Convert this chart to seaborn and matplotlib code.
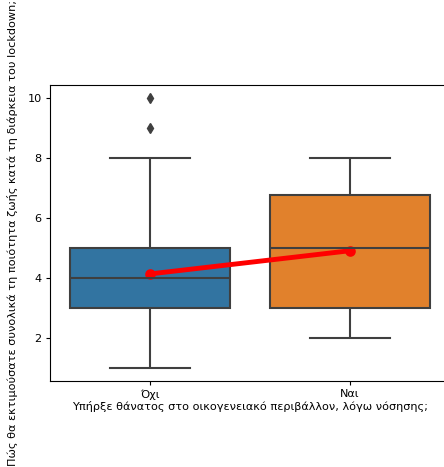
import pandas as pd
import matplotlib
matplotlib.use('Agg')
import matplotlib.pyplot as plt
import seaborn as sns

# quality-of-life scores per group
scores_no = [1, 1, 1, 2, 2, 2, 2, 2, 3, 3, 3, 3, 3, 3, 3, 3,
             4, 4, 4, 4, 4, 4, 4, 4, 4, 4, 5, 5, 5, 5, 5, 5, 5,
             6, 6, 7, 7, 8, 9, 10]
scores_yes = [2, 2, 3, 3, 5, 5, 6, 7, 8, 8]
categories = ['Όχι', 'Ναι']

x_label = 'Υπήρξε θάνατος στο οικογενειακό περιβάλλον, λόγω νόσησης;'
y_label = 'Πώς θα εκτιμούσατε συνολικά τη ποιότητα ζωής κατά τη διάρκεια του lockdown;'

plt.rcParams['font.size'] = 8.1

df = pd.DataFrame({
    x_label: [categories[0]] * len(scores_no) + [categories[1]] * len(scores_yes),
    y_label: scores_no + scores_yes,
})

fig = plt.figure(figsize=(4.44, 4.67), dpi=100)
ax = fig.add_axes([50 / 444, 86 / 467, 400 / 444, 296.5 / 467])

sns.boxplot(data=df, x=x_label, y=y_label, hue=x_label, order=categories,
            hue_order=categories, palette=['#1f77b4', '#ff7f0e'], saturation=0.75,
            linecolor='#3f3f3f', linewidth=1.5, legend=False, ax=ax,
            flierprops=dict(marker='d', markerfacecolor='#3f3f3f',
                            markeredgecolor='#3f3f3f', markersize=5))
sns.pointplot(data=df, x=x_label, y=y_label, order=categories, color='red',
              errorbar=None, linewidth=3.5, markersize=5, ax=ax)

ax.tick_params(length=3, pad=3, labelsize=8.1)
ax.set_xlabel(x_label, labelpad=1, fontsize=8.1)
ax.set_ylabel(y_label, labelpad=7, fontsize=8.1)

fig.savefig('out.png', dpi=100)
